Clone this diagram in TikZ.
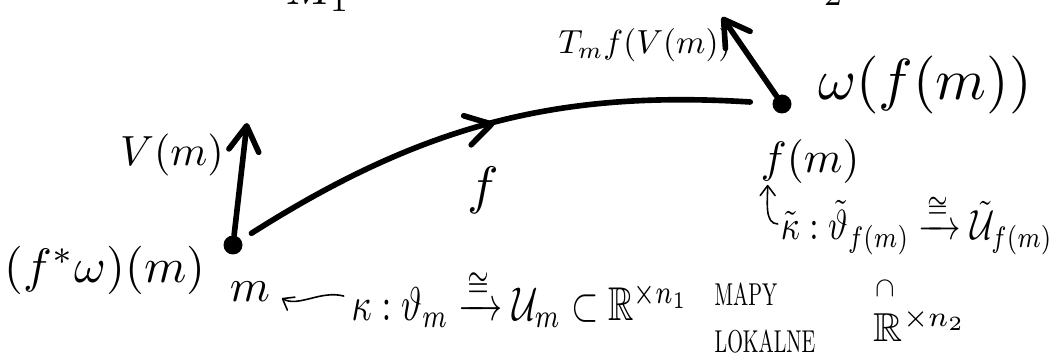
\documentclass[tikz,border=0pt]{standalone}
\usepackage{amsmath,amssymb}
\usepackage{tikz}
\usetikzlibrary{arrows.meta,decorations.markings,calc}

\begin{document}
\begin{tikzpicture}[x=0.02cm,y=0.02cm,>={Straight Barb[length=5mm,width=6mm,round]},
 ink/.style={line width=3.2pt,line cap=round,line join=round},
 dot/.style={circle,fill,inner sep=0pt,minimum size=0.38cm},
 lbl/.style={inner sep=0pt},
 vec/.style={ink,->},
 thinhook/.style={line width=0.9pt,line cap=round,-{Straight Barb[length=2mm,width=3mm,round]}},
 midarrow/.style={postaction={decorate},decoration={markings,mark=at position .5 with {\arrow{>}}}}]
\useasboundingbox (0,0) rectangle (1064,358);
\clip (0,0) rectangle (1064,358);
% points
\node[dot](mdot) at (233,113){};
\node[dot](fmdot) at (782,254){};
\coordinate (vtip) at (247,235);
\coordinate (ttip) at (722,341);
% vectors and the map f
\draw[vec](mdot)--(vtip);
\draw[vec](fmdot)--(ttip);
\draw[ink,midarrow,shorten <=0.24cm,shorten >=0.44cm](mdot)to[bend left=18](fmdot);
% labels
\node[lbl,scale=2.4](vlab) at (172,203){$V(m)$};
\node[lbl,scale=3](flab) at (483,168){$f$};
\node[lbl,scale=1.9](tlab) at (645,313){$T_m f(V(m))$};
\node[lbl,scale=3.3](wlab) at (925,273){$\omega(f(m))$};
\node[lbl,scale=2.5](fmlab) at (810,196){$f(m)$};
\node[lbl,scale=2.75](pull) at (105,88){$(f^{*}\omega)(m)$};
\node[lbl,scale=2.6](mlab) at (250,66){$m$};
\node[lbl,scale=2.6](mone) at (318,366){$M_1$};
\node[lbl,scale=2.6](mtwo) at (812,372){$M_2$};
% charts
\node[lbl,xscale=2.0,yscale=2.7](kap) at (520,60){$\kappa:\vartheta_m\xrightarrow{\cong}\mathcal{U}_m\subset\mathbb{R}^{\times n_1}$};
\node[lbl,xscale=1.9,yscale=2.4](kapt) at (917,134){$\tilde{\kappa}:\tilde{\vartheta}_{f(m)}\xrightarrow{\cong}\tilde{\mathcal{U}}_{f(m)}$};
\node[lbl,scale=1.6,rotate=-90](incl) at (885,70){$\subset$};
\node[lbl,scale=2.3](rtwo) at (920,33){$\mathbb{R}^{\times n_2}$};
\node[lbl,xscale=1.15,yscale=1.8,align=left](maps) at (765,40){MAPY\\[3pt]LOKALNE};
\draw[thinhook,shorten <=0.15cm,shorten >=0.25cm](kap.west)to[out=165,in=-30](mlab.east);
\draw[thinhook,shorten <=0.05cm](kapt.west)to[out=180,in=-90]($(fmlab.south west)+(8,0)$);
\end{tikzpicture}
\end{document}
